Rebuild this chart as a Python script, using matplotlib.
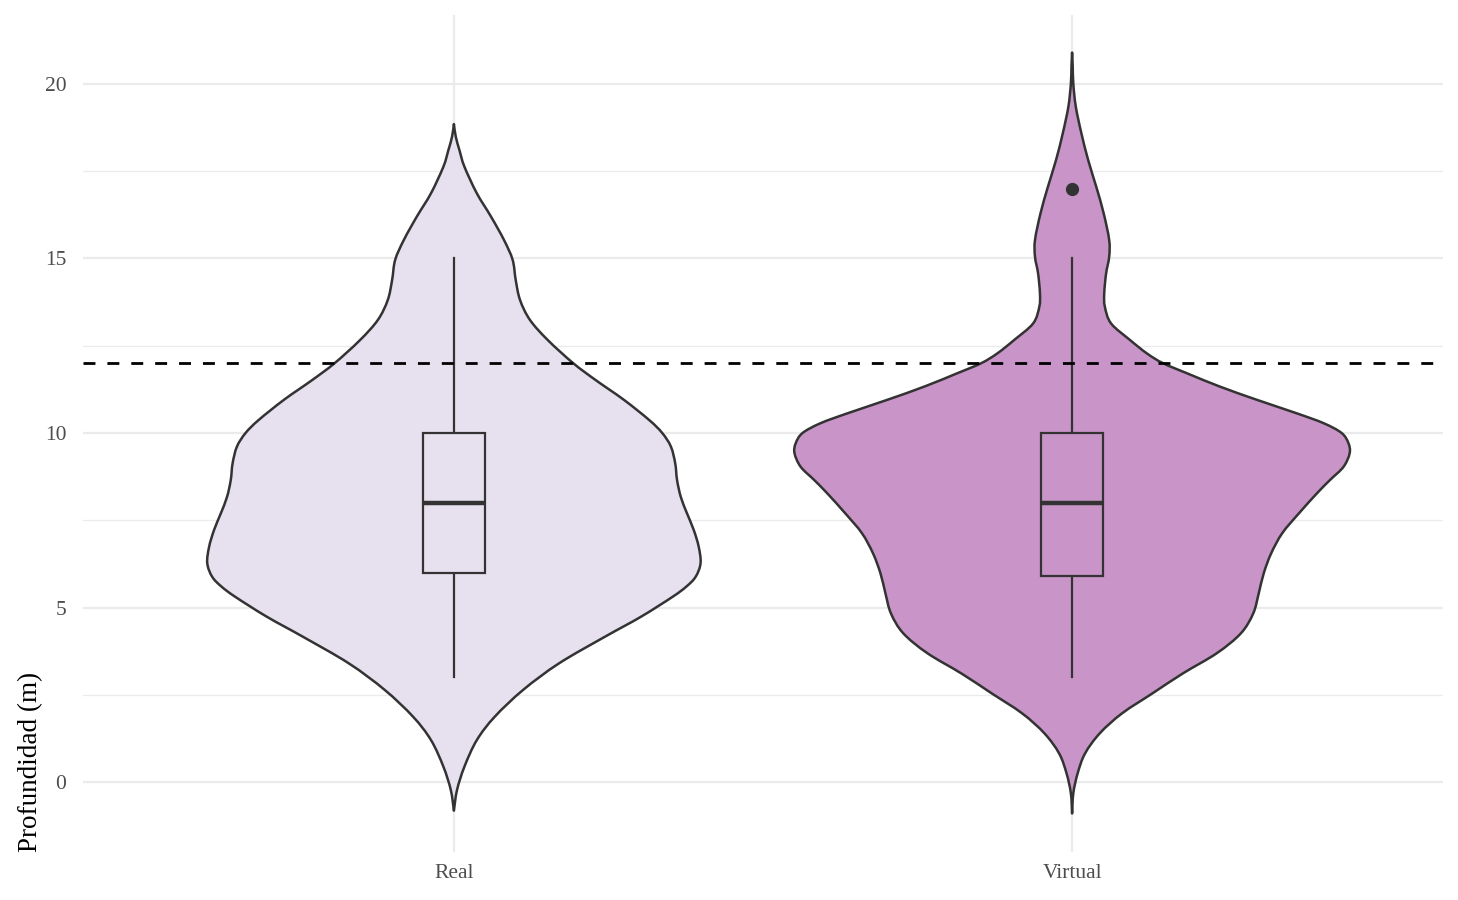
import numpy as np
import matplotlib.pyplot as plt
from matplotlib.patches import Rectangle, PathPatch
from matplotlib.path import Path

plt.rcParams['font.family'] = ['Liberation Serif', 'DejaVu Serif']

## Datos
grupos = ['Real', 'Virtual']
colores = ['#e7e1ef', '#c994c7']

# Perfil de densidad de cada violin: profundidad (m) y semiancho (unidades del eje x)
real_y = [18.85, 18.49, 18.1, 17.63, 16.87, 16.2, 15.53, 14.96, 14.38, 13.81, 13.24,
          12.66, 12.0, 11.52, 10.95, 10.37, 10.0, 9.61, 9.13, 8.65, 8.17, 7.7, 7.22,
          6.74, 6.27, 5.88, 5.6, 5.31, 4.74, 4.16, 3.4, 2.64, 1.87, 1.2, 0.44, -0.23,
          -0.82]
real_w = [0.0, 0.003, 0.009, 0.017, 0.037, 0.060, 0.081, 0.095, 0.100, 0.107, 0.123,
          0.152, 0.193, 0.229, 0.275, 0.316, 0.337, 0.351, 0.358, 0.361, 0.367, 0.377,
          0.388, 0.396, 0.399, 0.391, 0.376, 0.354, 0.303, 0.244, 0.170, 0.112, 0.066,
          0.037, 0.017, 0.005, 0.0]

virt_y = [20.9, 20.5, 20.0, 19.35, 18.59, 17.82, 17.06, 16.3, 15.53, 15.05, 14.57,
          14.0, 13.62, 13.14, 12.66, 12.28, 12.0, 11.71, 11.33, 10.95, 10.56, 10.28,
          10.0, 9.71, 9.42, 9.03, 8.65, 8.27, 7.7, 7.13, 6.55, 5.98, 5.41, 4.83, 4.26,
          3.69, 3.11, 2.54, 1.97, 1.4, 0.82, 0.25, -0.32, -0.9]
virt_w = [0.0, 0.001, 0.002, 0.006, 0.015, 0.026, 0.039, 0.051, 0.060, 0.060, 0.055,
          0.052, 0.053, 0.063, 0.094, 0.121, 0.147, 0.186, 0.239, 0.299, 0.364, 0.407,
          0.436, 0.447, 0.449, 0.439, 0.417, 0.396, 0.367, 0.340, 0.322, 0.310, 0.302,
          0.293, 0.273, 0.234, 0.179, 0.130, 0.081, 0.045, 0.021, 0.009, 0.002, 0.0]

# Estadisticos del boxplot
bigote_inf = [3, 3]
q1 = [6.0, 5.9]
mediana = [8, 8]
q3 = [10, 10]
bigote_sup = [15, 15]
atipicos = [[], [17]]

umbral = 12

perfiles = [(real_y, real_w), (virt_y, virt_w)]
linea = '#333333'


def curva(xs, ys):
    # curva suave (Catmull-Rom como bezier) que pasa por los puntos leidos
    p = np.column_stack([xs, ys])
    ext = np.vstack([p[0], p, p[-1]])
    verts = [p[0]]
    for k in range(1, len(ext) - 2):
        p0, p1, p2, p3 = ext[k - 1], ext[k], ext[k + 1], ext[k + 2]
        verts += [p1 + (p2 - p0) / 6, p2 - (p3 - p1) / 6, p2]
    return verts


fig = plt.figure(figsize=(14.58, 9), dpi=100)
ax = fig.add_axes([83 / 1458, 48.5 / 900, 1360 / 1458, 837 / 900])

for i, (py, pw) in enumerate(perfiles):
    pos = i + 1
    py = np.array(py)
    pw = np.array(pw)
    derecha = curva(pos + pw, py)
    izquierda = curva((pos - pw)[::-1], py[::-1])
    verts = derecha + izquierda[1:] + [derecha[0]]
    codes = ([Path.MOVETO] + [Path.CURVE4] * (len(derecha) - 1)
             + [Path.CURVE4] * (len(izquierda) - 1) + [Path.CLOSEPOLY])
    ax.add_patch(PathPatch(Path(verts, codes), facecolor=colores[i], edgecolor=linea,
                           lw=1.8, joinstyle='round', zorder=2))

    # boxplot
    ax.plot([pos, pos], [bigote_inf[i], q1[i]], color=linea, lw=1.6, zorder=3)
    ax.plot([pos, pos], [q3[i], bigote_sup[i]], color=linea, lw=1.6, zorder=3)
    ax.add_patch(Rectangle((pos - 0.05, q1[i]), 0.1, q3[i] - q1[i],
                           facecolor=colores[i], edgecolor=linea, lw=1.6, zorder=3))
    ax.plot([pos - 0.05, pos + 0.05], [mediana[i], mediana[i]], color=linea,
            lw=3.2, solid_capstyle='butt', zorder=4)
    if atipicos[i]:
        ax.plot([pos] * len(atipicos[i]), atipicos[i], 'o', color=linea,
                markersize=8.5, zorder=4)

# Linea de umbral
ax.axhline(umbral, color='black', lw=2, linestyle=(0, (4.3, 4.3)), zorder=5)

# Ejes
todos_y = real_y + virt_y
lo, hi = min(todos_y), max(todos_y)
rango = hi - lo
ax.set_ylim(lo - 0.05 * rango, hi + 0.05 * rango)
ax.set_xlim(0.4, 2.6)

ax.set_xticks([1, 2])
ax.set_xticklabels(grupos)
ax.set_yticks([0, 5, 10, 15, 20])
ax.set_yticks([2.5, 7.5, 12.5, 17.5], minor=True)
ax.tick_params(axis='both', which='both', length=0, labelsize=15.5, labelcolor='#4d4d4d')
ax.tick_params(axis='x', pad=9)
ax.tick_params(axis='y', pad=12)

ax.grid(which='major', color='#ebebeb', lw=1.6, zorder=0)
ax.grid(which='minor', axis='y', color='#ebebeb', lw=0.9, zorder=0)
ax.set_axisbelow(True)
for s in ax.spines.values():
    s.set_visible(False)

ax.set_ylabel('Profundidad (m)', fontsize=19.5, loc='bottom', labelpad=1)

fig.savefig('out.png', dpi=100)
